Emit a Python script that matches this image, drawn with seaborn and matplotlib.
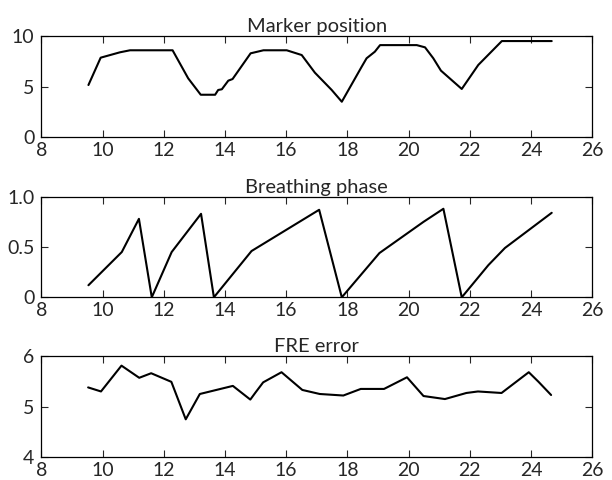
import matplotlib
matplotlib.use("Agg")
import matplotlib.pyplot as plt
import seaborn as sns
import pandas as pd

# marker position trace
marker_t = [9.54, 9.94, 10.57, 10.9, 12.29, 12.8, 13.21, 13.68, 13.78, 13.9, 14.11, 14.25,
            14.84, 15.26, 16.02, 16.51, 16.94, 17.49, 17.82, 18.47, 18.63, 18.9, 19.07,
            20.27, 20.54, 20.81, 21.06, 21.74, 22.28, 23.05, 24.68]
marker_pos = [5.16, 7.86, 8.39, 8.59, 8.59, 5.82, 4.2, 4.2, 4.67, 4.74, 5.59, 5.75,
              8.29, 8.59, 8.59, 8.12, 6.38, 4.67, 3.51, 6.97, 7.8, 8.45, 9.1,
              9.1, 8.88, 7.8, 6.58, 4.77, 7.14, 9.5, 9.5]

# breathing phase
phase_t = [9.54, 10.63, 11.19, 11.61, 12.26, 13.22, 13.64, 14.87, 17.08, 17.82,
           19.05, 20.49, 21.14, 21.74, 22.61, 23.15, 24.68]
phase = [0.12, 0.45, 0.78, 0.0, 0.45, 0.83, 0.0, 0.46, 0.87, 0.0,
         0.44, 0.75, 0.88, 0.0, 0.32, 0.49, 0.84]

# FRE error
fre_t = [9.53, 9.95, 10.62, 11.2, 11.59, 12.25, 12.72, 13.18, 14.26, 14.83, 15.0, 15.25,
         15.85, 16.53, 17.1, 17.87, 18.44, 19.2, 19.95, 20.49, 21.19, 21.89, 22.27,
         23.04, 23.93, 24.25, 24.66]
fre = [5.38, 5.30, 5.81, 5.57, 5.66, 5.49, 4.75, 5.25, 5.41, 5.14, 5.28, 5.48,
       5.68, 5.33, 5.25, 5.22, 5.35, 5.35, 5.58, 5.21, 5.15, 5.27, 5.30,
       5.27, 5.68, 5.49, 5.23]

titles = ["Marker position", "Breathing phase", "FRE error"]
yticks = [[0, 5, 10], [0, 0.5, 1.0], [4, 5, 6]]
ylabels = [["0", "5", "10"], ["0", "0.5", "1.0"], ["4", "5", "6"]]
xticks = list(range(8, 27, 2))

sns.set_style("ticks")
plt.rcParams['font.family'] = ['Lato', 'DejaVu Sans']

fig = plt.figure(figsize=(6.12, 4.8), dpi=100)
rects = [[0.0675, 0.714, 0.900, 0.211],
         [0.0675, 0.3806, 0.900, 0.2096],
         [0.0675, 0.0473, 0.900, 0.211]]

series = [(marker_t, marker_pos), (phase_t, phase), (fre_t, fre)]

for i, (t, v) in enumerate(series):
    ax = fig.add_axes(rects[i])
    df = pd.DataFrame({"t": t, "v": v})
    sns.lineplot(data=df, x="t", y="v", color="black", lw=1.5, estimator=None,
                 sort=False, ax=ax)
    ax.set_xlim(8, 26)
    ax.set_ylim(yticks[i][0], yticks[i][-1])
    ax.set_xticks(xticks)
    ax.set_xticklabels([str(x) for x in xticks])
    ax.set_yticks(yticks[i])
    ax.set_yticklabels(ylabels[i])
    ax.set_xlabel("")
    ax.set_ylabel("")
    ax.set_title(titles[i], fontsize=14.5, pad=3)
    ax.tick_params(direction="in", top=True, right=True, length=5, width=0.8,
                   labelsize=14)
    ax.tick_params(axis="x", pad=3.5)
    ax.tick_params(axis="y", pad=5)
    for s in ax.spines.values():
        s.set_linewidth(0.9)
        s.set_color("black")

fig.savefig("out.png", dpi=100)
